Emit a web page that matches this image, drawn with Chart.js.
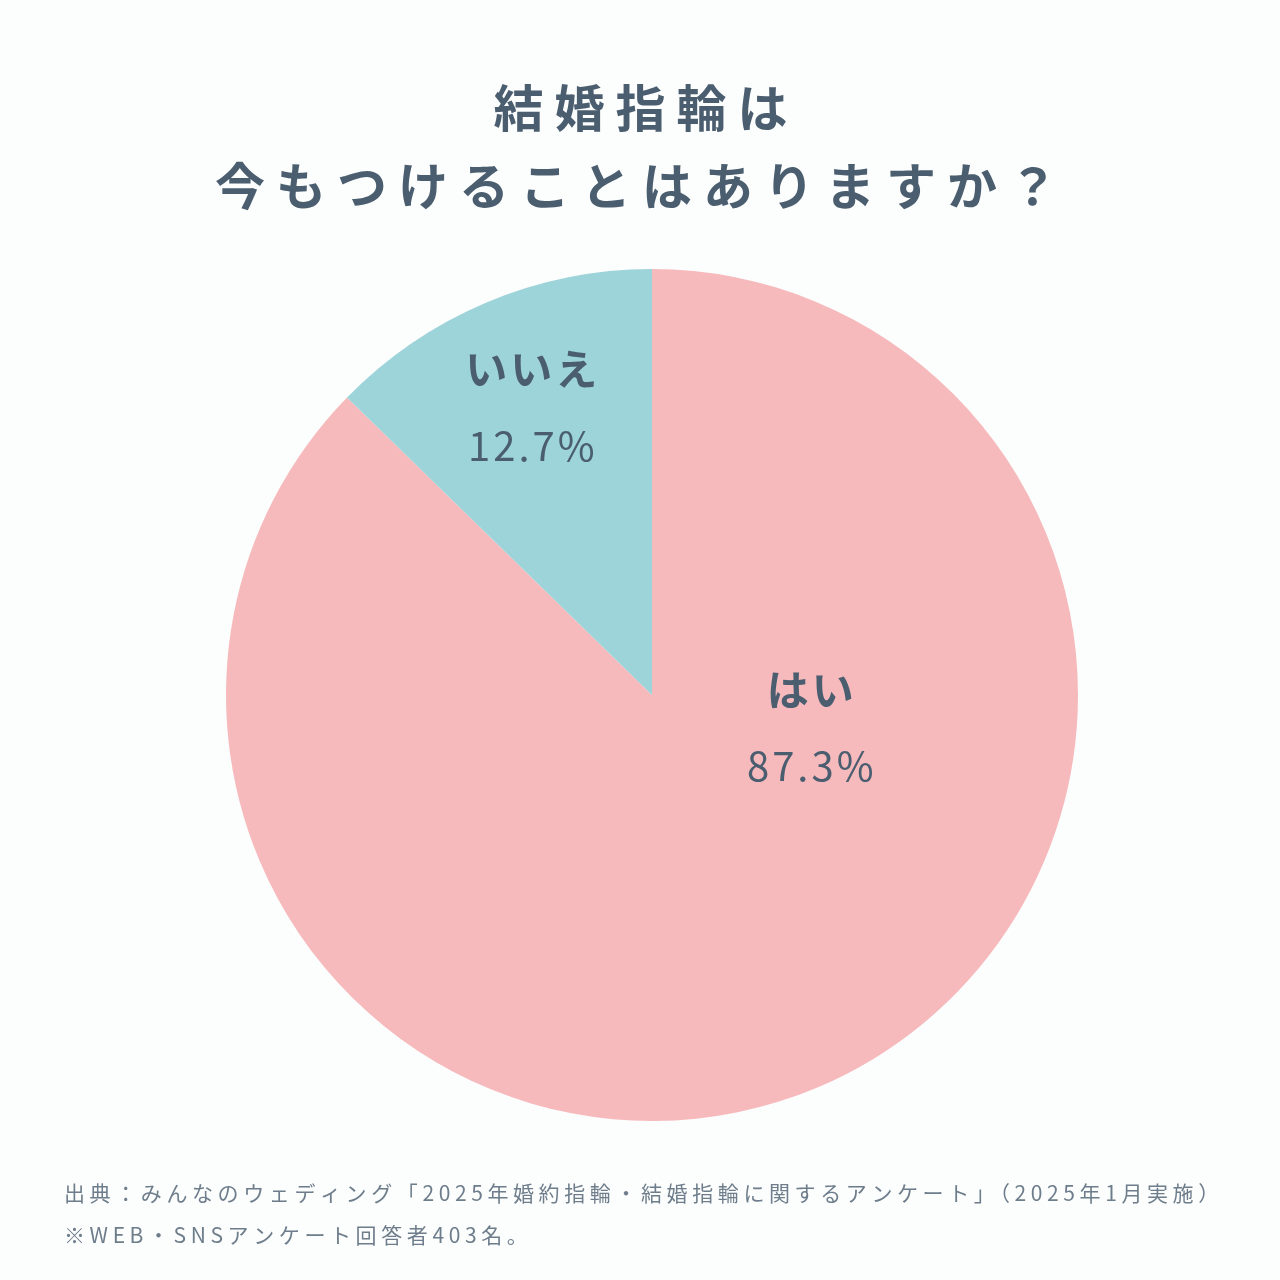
<!DOCTYPE html>
<html><head><meta charset="utf-8">
<script src="https://cdn.jsdelivr.net/npm/chart.js@4"></script>
<style>html,body{margin:0;padding:0;background:#fcfdfd;}#c{display:block;}</style>
</head><body>
<div style="width:1280px;height:1280px"><canvas id="c" width="1280" height="1280"></canvas></div>
<script>
const categories = ['はい', 'いいえ'];
const values = [87.3, 12.7];
const valueLabels = ['87.3%', '12.7%'];
const titleLines = ['結婚指輪は', '今もつけることはありますか？'];
const notes = ['出典：みんなのウェディング「2025年婚約指輪・結婚指輪に関するアンケート」（2025年1月実施）', '※WEB・SNSアンケート回答者403名。'];
const FONT = '"Noto Sans CJK JP","Noto Sans",sans-serif';
const TXT = '#4b5e70';

const deco = {
  id: 'deco',
  afterDraw(chart) {
    const ctx = chart.ctx;
    ctx.save();
    ctx.fillStyle = TXT;
    ctx.textAlign = 'center'; ctx.textBaseline = 'middle';
    ctx.font = 'bold 50px ' + FONT;
    ctx.letterSpacing = '11px';
    ctx.fillText(titleLines[0], 646, 108);
    ctx.fillText(titleLines[1], 642, 186);
    ctx.textAlign = 'left';
    ctx.fillStyle = '#6e7d8b';
    ctx.font = '21px ' + FONT;
    ctx.letterSpacing = '4.6px';
    ctx.fillText(notes[0], 64, 1193);
    ctx.fillText(notes[1], 64, 1235);
    const meta = chart.getDatasetMeta(0);
    const a0 = meta.data[0];
    const cx = a0.x, cy = a0.y, r = a0.outerRadius;
    const pos = [[cx + 0.375 * r, cy + 0.078 * r], null];
    const a1 = meta.data[1];
    const mid = (a1.startAngle + a1.endAngle) / 2;
    pos[1] = [cx + Math.cos(mid) * 0.72 * r, cy + Math.sin(mid) * 0.72 * r - 5];
    ctx.textAlign = 'center';
    pos.forEach((p, i) => {
      ctx.fillStyle = TXT;
      ctx.letterSpacing = '3px';
      ctx.font = 'bold 42px ' + FONT;
      ctx.fillText(categories[i], p[0], p[1] - 38);
      ctx.font = '40px ' + FONT;
      ctx.fillText(valueLabels[i], p[0], p[1] + 38);
    });
    ctx.restore();
  }
};

new Chart(document.getElementById('c'), {
  type: 'pie',
  data: { labels: categories, datasets: [{ data: values, backgroundColor: ['#f7babc', '#9dd4d9'], borderWidth: 0 }] },
  options: {
    responsive: false, animation: false,
    layout: { padding: { top: 269, bottom: 159, left: 226, right: 202 } },
    plugins: { legend: { display: false }, tooltip: { enabled: false } }
  },
  plugins: [deco]
});
</script>
</body></html>
